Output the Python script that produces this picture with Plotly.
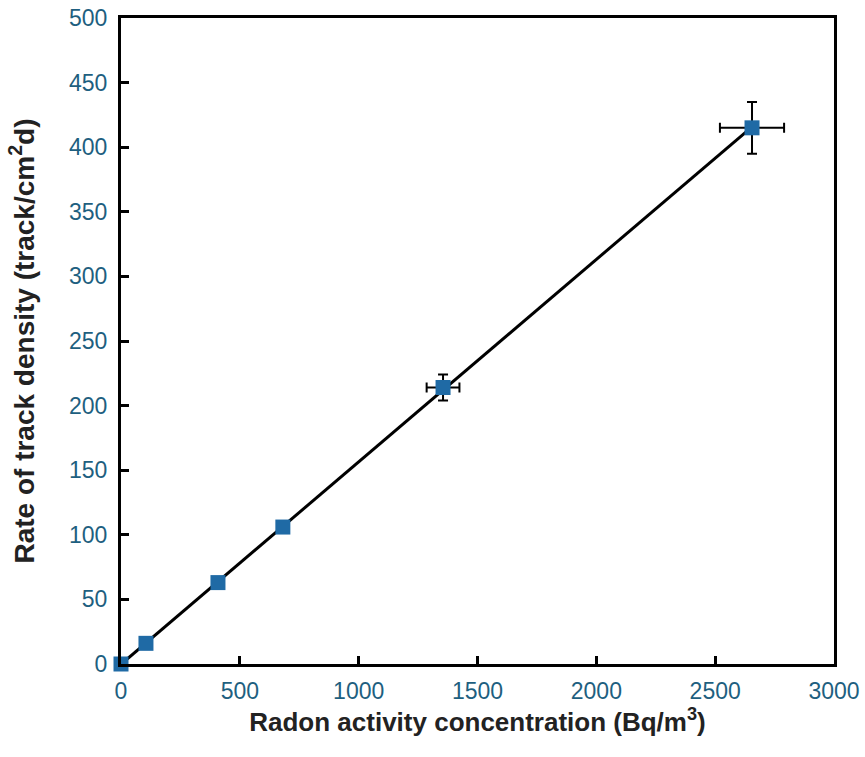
import numpy as np
import plotly.graph_objects as go

# Data
radon_conc = [0, 105, 408, 681, 1355, 2655]          # Bq/m^3
track_rate = [0, 16, 63, 106, 214, 415]              # track/cm^2 d
conc_err = [0, 0, 0, 0, 69, 135]
rate_err = [0, 0, 0, 0, 10, 20]

x_ticks = [0, 500, 1000, 1500, 2000, 2500, 3000]
y_ticks = [0, 50, 100, 150, 200, 250, 300, 350, 400, 450, 500]

# Linear fit through the data
slope, intercept = np.polyfit(radon_conc, track_rate, 1)
fit_x = np.array([min(radon_conc), max(radon_conc)])
fit_y = slope * fit_x + intercept

fig = go.Figure()
fig.add_trace(go.Scatter(
    x=fit_x, y=fit_y, mode="lines",
    line=dict(color="black", width=3), showlegend=False, hoverinfo="skip"))
fig.add_trace(go.Scatter(
    x=radon_conc, y=track_rate, mode="markers",
    marker=dict(symbol="square", size=15, color="#1f6aa5"),
    error_x=dict(type="data", array=conc_err, color="black", thickness=2, width=5, visible=True),
    error_y=dict(type="data", array=rate_err, color="black", thickness=2, width=5, visible=True),
    showlegend=False, cliponaxis=False))

font_family = "Liberation Sans, Arial, sans-serif"
fig.update_layout(
    width=865, height=757,
    margin=dict(l=121, r=31, t=18, b=93),
    paper_bgcolor="white", plot_bgcolor="white",
    font=dict(family=font_family),
)
fig.update_xaxes(
    range=[0, 3000], tickvals=x_ticks, ticks="inside", ticklen=8, tickwidth=3, tickcolor="black",
    showline=True, linecolor="black", linewidth=3, mirror=True, showgrid=False, zeroline=False,
    tickfont=dict(size=23, color="#1e5f80"), ticklabelstandoff=4, automargin=False,
    title=dict(text="<b>Radon activity concentration (Bq/m<sup>3</sup>)</b>",
               font=dict(size=26, color="#222222"), standoff=6),
)
fig.update_yaxes(
    range=[0, 500], tickvals=y_ticks, ticks="inside", ticklen=8, tickwidth=3, tickcolor="black",
    showline=True, linecolor="black", linewidth=3, mirror=True, showgrid=False, zeroline=False,
    tickfont=dict(size=23, color="#1e5f80"), ticklabelstandoff=6, automargin=False,
    title=dict(text="<b>Rate of track density (track/cm<sup>2</sup>d)</b>",
               font=dict(size=28, color="#222222"), standoff=27),
)

fig.write_html("out.html")
